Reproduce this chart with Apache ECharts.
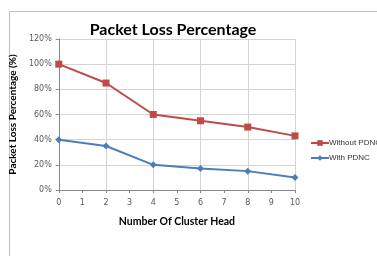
<!DOCTYPE html>
<html><head><meta charset="utf-8">
<script src="https://cdn.jsdelivr.net/npm/echarts@6/dist/echarts.min.js"></script>
<style>html,body{margin:0;padding:0;background:#fff}#c{width:377px;height:256px}</style>
</head><body><div id="c"></div>
<script>
const clusterHeads = [0, 2, 4, 6, 8, 10];
const withoutPDNC = [100, 85, 60, 55, 50, 43];
const withPDNC = [40, 35, 20, 17, 15, 10];
const yTicks = [0, 20, 40, 60, 80, 100, 120];
const seriesNames = ['Without PDNC', 'With PDNC'];

const chart = echarts.init(document.getElementById('c'), null, {renderer: 'canvas'});
const lab = {color: '#595959', fontSize: 8, fontFamily: 'DejaVu Sans'};
chart.setOption({
  animation: false,
  backgroundColor: '#fff',
  graphic: [{type: 'rect', shape: {x: 9.5, y: 11.5, width: 400, height: 300}, style: {fill: 'none', stroke: '#bfbfbf', lineWidth: 1}}],
  title: {text: 'Packet Loss Percentage', left: 168, top: 17, textAlign: 'center',
    textStyle: {fontFamily: 'Lato', fontWeight: 'bold', fontSize: 16, color: '#000'}},
  legend: {orient: 'vertical', left: 310, top: 139, padding: 0, itemGap: 7, itemWidth: 18, itemHeight: 7,
    textStyle: {fontFamily: 'Liberation Sans', fontSize: 8, color: '#333', padding: [0, 0, 0, -5]},
    data: seriesNames.map(n => ({name: n}))},
  grid: {left: 57, right: 82, top: 39, bottom: 66},
  xAxis: [{
    type: 'value', min: 0, max: 10, interval: 1,
    name: 'Number Of Cluster Head', nameLocation: 'middle', nameGap: 26,
    nameTextStyle: {fontFamily: 'Lato', fontWeight: 'bold', fontSize: 10.5, color: '#000'},
    axisLine: {show: true, lineStyle: {color: '#868686'}},
    axisTick: {show: true, length: 3, lineStyle: {color: '#868686'}},
    axisLabel: Object.assign({margin: 9}, lab),
    splitLine: {show: false}
  }, {
    type: 'value', min: 0, max: 10, interval: 2, position: 'bottom',
    axisLine: {show: false}, axisTick: {show: false}, axisLabel: {show: false},
    splitLine: {show: true, lineStyle: {color: '#d4d4d4'}}
  }],
  yAxis: {
    type: 'value', min: yTicks[0], max: yTicks[yTicks.length-1], interval: 20,
    name: 'Packet Loss Percentage (%)', nameLocation: 'middle', nameGap: 30, nameRotate: 90,
    nameTextStyle: {fontFamily: 'Lato', fontWeight: 'bold', fontSize: 10, color: '#000'},
    axisLine: {show: true, lineStyle: {color: '#868686'}},
    axisTick: {show: true, length: 3, lineStyle: {color: '#868686'}},
    axisLabel: Object.assign({formatter: '{value}%', margin: 7}, lab),
    splitLine: {show: true, lineStyle: {color: '#d4d4d4'}}
  },
  series: [{
    name: seriesNames[0], type: 'line', xAxisIndex: 0,
    data: clusterHeads.map((x, i) => [x, withoutPDNC[i]]),
    symbol: 'rect', symbolSize: 7,
    itemStyle: {color: '#be4b48'}, lineStyle: {color: '#be4b48', width: 2}
  }, {
    name: seriesNames[1], type: 'line', xAxisIndex: 0,
    data: clusterHeads.map((x, i) => [x, withPDNC[i]]),
    symbol: 'diamond', symbolSize: 7,
    itemStyle: {color: '#4a7ebb'}, lineStyle: {color: '#4a7ebb', width: 2}
  }]
});
</script></body></html>
